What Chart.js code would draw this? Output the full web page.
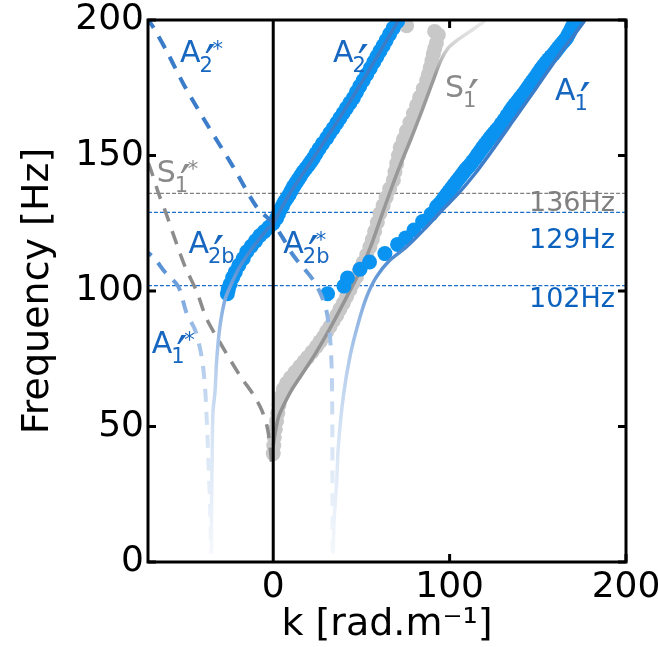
<!DOCTYPE html>
<html>
<head>
    <meta charset="UTF-8" />
    <title>Dispersion curves</title>
    <script src="https://cdn.jsdelivr.net/npm/chart.js@4.4.0/dist/chart.umd.min.js"></script>
    <style>
        body { margin: 0; background: #fff; }
        #plot { display: block; }
    </style>
</head>
<body>
<canvas id="plot" width="658" height="647"></canvas>
<script>
    // every series is a list of [k (rad/m), f (Hz)]

    // measured branches (dots)
    const a2Dots = [[-26,99],[-25.5,100.5],[-24.5,102.5],[-23,105],[-21.5,107],[-19.5,109.5],[-17,112],[-15,114.5],
        [-12.5,116.5],[-10,118.5],[-7.5,120.5],[-5,122],[-2.5,123.5],[0,125],[2,127],[3,128.5],[4,130],[5.3,131.5],
        [6.5,133],[7.8,134.3],[9,135.5],[10.2,137],[11.5,138.5],[12.8,139.8],[14,141],[15.5,142.5],[17,144],
        [18.5,145.2],[20,146.5],[21.3,147.7],[22.7,149],[24.3,150.7],[26,152.5],[28,154.4],[30.3,156.4],[32,158.2],
        [34,160],[36,162],[37.8,163.8],[39.6,165.6],[41.5,167.5],[43.5,169.4],[45.4,171.2],[47.2,173.4],[49,175.5],
        [51,177.7],[53,179.9],[55,182.2],[57,184.5],[58.8,186.5],[60.5,188.5],[62.3,190.5],[64,192.5],[66,194.8],
        [68,197],[70.5,199.5]];

    const a1Dots = [[30.8,99],[40.1,101.8],[42.1,104.8],[49.2,108],[54.6,110.7],[63.3,113.8],[70.5,117.2],
        [75.1,119.6],[79.8,122.5],[84.7,125.6],[89.4,128.3],[92.6,131.1],[94,132],[95.5,133],[96.8,134.3],
        [98.2,135.5],[99.6,136.7],[101,137.9],[102.5,139.2],[104,140.5],[105.4,141.6],[106.8,142.8],[108,143.8],
        [109,144.7],[110.3,145.6],[111.5,146.5],[113,147.8],[114.5,149],[115.8,150.3],[117.2,151.5],[118.6,152.8],
        [120,154],[121.4,155.2],[122.8,156.4],[124,157.4],[125.2,158.3],[126.4,159.2],[127.6,160.1],[129.3,161.7],
        [131,163.2],[132.6,164.8],[134.2,166.3],[135.6,167.6],[137,168.8],[138.5,170],[139.9,171.2],[141.5,172.5],
        [143,173.8],[144.3,175],[145.6,176.2],[146.8,177.3],[148,178.3],[149.2,179.4],[150.3,180.5],[151.6,181.8],
        [153,183],[154.5,184.2],[156,185.4],[157.5,186.5],[159,187.5],[160.3,188.6],[161.6,189.7],[162.8,190.7],
        [164,191.6],[165.2,192.5],[166.3,193.4],[167.2,194.5],[168,195.5],[168.8,196.6],[169.7,197.8],[171,199.5]];

    const s1Dots = [[0,40],[0.3,43],[0.6,46],[1.2,49],[1.9,52],[2.6,55],[3.3,58],[4.3,61],[5.8,63.8],[7.6,66],
        [9.8,68],[12.3,70],[15.1,72.1],[17.5,74],[19.5,75.5],[22,77.5],[24.6,79.5],[26.5,81.3],[28.5,83],[30.3,85],
        [32.1,86.8],[34,89],[36,91],[37.8,93.3],[39.7,95.5],[41.6,98],[43.5,100.5],[45.3,103],[47.2,105.3],[49,108],
        [51,110.5],[53,113.4],[54.8,116.3],[56.2,119],[57.5,122],[59,125.3],[60.5,128.6],[62.3,131.5],[64,134.5],
        [66,137.7],[68.1,140.9],[69,144],[70,147],[71,150],[72,153],[73.8,156],[75.5,159],[77.5,162.2],[79.5,165.5],
        [81.3,168.5],[83,171.5],[85,174.6],[87,177.7],[88,180],[89,182.5],[90,185],[90.8,187.5],[91.6,189.5],
        [92.5,191.5],[93.6,194.5],[91.5,195.8],[75.6,197.9]];

    // model branches (lines), starred ones are the negative-k branches
    const a2Model = [[-35,3],[-35,20],[-34.6,40],[-34.2,55],[-33,63],[-32,75],[-30.2,87],[-27.4,96.7],[-24.5,101.6],
        [-18.9,109],[-11.3,116.3],[-3.8,122.5],[0,124.9],[5,131],[11.4,138],[22.7,149],[37.8,164],[53,180],
        [63,191],[72,201]];

    const a2StarModel = [[-72,201],[-68,197.3],[-60,188],[-51,176.5],[-37.8,161.8],[-22.7,145.8],[-9.4,131],
        [0,124.9],[5.5,119.5],[11.5,113],[22.7,104],[27.5,98],[30.4,92],[32.3,82],[33.2,70],[33.5,50],
        [33.6,30],[33.6,3]];

    const a1Model = [[34,3],[34.5,15],[36,30],[36.9,42.6],[39.7,61],[43.5,75.8],[48.2,88.1],[53,97.9],[58.6,105.3],
        [66.2,111.4],[75.6,116.3],[87,123.7],[96,130],[105,136],[114,143],[122.8,150.7],[136.2,163],[149.4,175.2],
        [162.6,187.6],[175.9,199.2],[177.2,201]];

    const a1StarModel = [[-75,116],[-68,112.5],[-61.4,107],[-53.8,101.6],[-49.1,91.8],[-44.3,85.6],[-40.6,75.8],
        [-38.7,64.7],[-37.6,51.3],[-36.7,36.5],[-35.8,20],[-35.4,8.3],[-35.3,3]];

    const s1Model = [[0,43],[1.2,48],[3,53.5],[6,58],[10,63],[16,69],[24,77],[32,86],[41,97],[48.5,106.5],[55,116],
        [61,127],[66.5,137],[72,146.5],[78,156],[84,166],[90,176.5],[95,185],[99,189.5],[104,192.4],[112,196],
        [119,199.2],[121,200.5]];

    const s1StarModel = [[-1,37],[-2,44],[-3.5,50],[-6.5,56],[-11,61.5],[-18.9,68.8],[-30.2,81],[-37.8,89.8],
        [-43.5,100],[-50,109],[-56.5,120.6],[-60.4,128],[-65,136],[-69.7,145.3],[-74,152]];

    // cut-off frequencies marked across the plot
    const cutoffs = [136, 129, 102];
    const cutoffNames = ['136Hz', '129Hz', '102Hz'];

    const xTicks = [0, 100, 200];
    const yTicks = [0, 50, 100, 150, 200];

    const FONT = 'DejaVu Sans';
    const BLUE_DOT = '#0a93f0';
    const BLUE_TXT = '#1767c0';
    const GREY_TXT = '#8a8a8a';

    const toXY = pts => pts.map(([x, y]) => ({ x, y }));

    // lines fade out towards low frequencies
    function blueFade(c) {
        const chart = c.chart;
        if (!chart.chartArea) return '#3d7cc6';
        const y = chart.scales.y;
        const g = chart.ctx.createLinearGradient(0, y.getPixelForValue(0), 0, y.getPixelForValue(200));
        g.addColorStop(0.00, '#f7fafd');
        g.addColorStop(0.10, '#e9f0f9');
        g.addColorStop(0.25, '#d3e2f4');
        g.addColorStop(0.35, '#b9d0ee');
        g.addColorStop(0.45, '#93b7e4');
        g.addColorStop(0.50, '#77a4dc');
        g.addColorStop(0.55, '#5590d3');
        g.addColorStop(0.60, '#3f80cc');
        g.addColorStop(1.00, '#3a7bc8');
        return g;
    }

    function greyFade(c) {
        const chart = c.chart;
        if (!chart.chartArea) return '#999';
        const y = chart.scales.y;
        const g = chart.ctx.createLinearGradient(0, y.getPixelForValue(0), 0, y.getPixelForValue(200));
        g.addColorStop(0.00, '#8e8e8e');
        g.addColorStop(0.90, '#9b9b9b');
        g.addColorStop(0.945, '#cdcdcd');
        g.addColorStop(1.00, '#ededed');
        return g;
    }

    function lineSet(pts, color, width, dash, order) {
        return {
            data: toXY(pts), showLine: true, pointRadius: 0, pointHoverRadius: 0,
            borderColor: color, borderWidth: width, borderDash: dash, tension: 0.3,
            fill: false, order: order
        };
    }

    function dotSet(pts, color, order) {
        return {
            data: toXY(pts), showLine: false, pointRadius: 7.5, pointHoverRadius: 7.5,
            pointBorderWidth: 0, backgroundColor: color, borderColor: color, order: order
        };
    }

    const datasets = [];
    cutoffs.forEach((f, i) => {
        datasets.push(lineSet([[-71, f], [200, f]], i === 0 ? '#808080' : '#1a6fcc', 1.3, [4, 2], 9));
    });
    datasets.push(dotSet(s1Dots, '#c8c8c8', 8));
    datasets.push(lineSet(s1Model, greyFade, 3.5, [], 7));
    datasets.push(lineSet(s1StarModel, '#8c8c8c', 3.5, [14, 10], 7));
    datasets.push(dotSet(a2Dots, BLUE_DOT, 6));
    datasets.push(dotSet(a1Dots, BLUE_DOT, 6));
    datasets.push(lineSet(a2StarModel, blueFade, 4, [13, 10], 3));
    datasets.push(lineSet(a1StarModel, blueFade, 4, [13, 10], 3));
    datasets.push(lineSet(a2Model, blueFade, 3.5, [], 2));
    datasets.push(lineSet(a1Model, blueFade, 3.5, [], 2));

    // mode names: base letter, subscript, marks, anchor in data units
    const modeNames = [
        { t: 'A', sub: '2', star: true, k: -52.8, f: 184.5, c: BLUE_TXT },
        { t: 'A', sub: '2', star: false, k: 33.9, f: 184.5, c: BLUE_TXT },
        { t: 'S', sub: '1', star: false, k: 97.4, f: 171.6, c: GREY_TXT },
        { t: 'A', sub: '1', star: false, k: 159.8, f: 170.5, c: BLUE_TXT },
        { t: 'S', sub: '1', star: true, k: -66.1, f: 140.2, c: GREY_TXT },
        { t: 'A', sub: '2b', star: false, k: -48.1, f: 114, c: BLUE_TXT },
        { t: 'A', sub: '2b', star: true, k: 5.7, f: 114, c: BLUE_TXT },
        { t: 'A', sub: '1', star: true, k: -68.9, f: 77.1, c: BLUE_TXT }
    ];

    // prime sized from its own ink box so it comes out ~10px tall
    function drawPrime(ctx, left, top) {
        ctx.font = '40px "' + FONT + '"';
        const m = ctx.measureText('\u2032');
        const h = (m.actualBoundingBoxAscent + m.actualBoundingBoxDescent) || 10;
        const size = Math.min(70, 40 * 10 / h);
        ctx.font = size.toFixed(1) + 'px "' + FONT + '"';
        const m2 = ctx.measureText('\u2032');
        ctx.fillText('\u2032', left + m2.actualBoundingBoxLeft, top + m2.actualBoundingBoxAscent);
    }

    function drawModeName(ctx, n, px, py) {
        ctx.fillStyle = n.c;
        ctx.textAlign = 'left';
        ctx.textBaseline = 'alphabetic';
        ctx.font = '30px "' + FONT + '"';
        ctx.fillText(n.t, px, py);
        const w = ctx.measureText(n.t).width;
        ctx.font = '21px "' + FONT + '"';
        ctx.fillText(n.sub, px + w - 1, py + 10);
        if (n.star) ctx.fillText('*', px + w + 12, py - 6);
        drawPrime(ctx, px + w + 4, py - 18);
    }

    // captions sit a little under their line (Hz)
    const captionDrop = [6.3, 13.3, 8];

    const decorations = {
        id: 'decorations',
        afterDatasetsDraw(chart) {
            const { ctx, chartArea: a, scales: { x, y } } = chart;
            ctx.save();

            ctx.font = '27px "' + FONT + '"';
            ctx.textAlign = 'right';
            ctx.textBaseline = 'alphabetic';
            cutoffs.forEach((f, i) => {
                ctx.fillStyle = i === 0 ? '#808080' : '#0b62be';
                ctx.fillText(cutoffNames[i], a.right - 11, y.getPixelForValue(f - captionDrop[i]));
            });

            modeNames.forEach(n => drawModeName(ctx, n, x.getPixelForValue(n.k), y.getPixelForValue(n.f)));

            // box, k = 0 line and inward ticks
            ctx.strokeStyle = '#000';
            ctx.lineWidth = 3;
            ctx.strokeRect(a.left, a.top, a.right - a.left, a.bottom - a.top);
            ctx.beginPath();
            const x0 = x.getPixelForValue(0);
            ctx.moveTo(x0, a.top);
            ctx.lineTo(x0, a.bottom);
            yTicks.forEach(v => {
                const py = y.getPixelForValue(v);
                ctx.moveTo(a.left, py); ctx.lineTo(a.left + 8, py);
                ctx.moveTo(a.right, py); ctx.lineTo(a.right - 8, py);
            });
            xTicks.forEach(v => {
                const px = x.getPixelForValue(v);
                ctx.moveTo(px, a.bottom); ctx.lineTo(px, a.bottom - 8);
                ctx.moveTo(px, a.top); ctx.lineTo(px, a.top + 8);
            });
            ctx.stroke();
            ctx.restore();
        }
    };

    const tickFont = { family: FONT, size: 36, lineHeight: 1 };
    const titleFont = { family: FONT, size: 38, lineHeight: 1 };

    new Chart(document.getElementById('plot'), {
        type: 'scatter',
        data: { datasets: datasets },
        options: {
            responsive: false,
            animation: false,
            devicePixelRatio: 1,
            layout: { padding: { top: 20, right: 32, bottom: 0, left: 0 } },
            plugins: { legend: { display: false }, tooltip: { enabled: false } },
            scales: {
                x: {
                    type: 'linear', min: -71, max: 200,
                    afterBuildTicks: s => { s.ticks = xTicks.map(v => ({ value: v })); },
                    afterFit: s => { s.height = 85; s.paddingLeft = 0; s.paddingRight = 0; },
                    grid: { display: false, drawTicks: false },
                    border: { display: false },
                    ticks: { font: tickFont, color: '#000', padding: 8, maxRotation: 0, autoSkip: false },
                    title: { display: true, text: 'k [rad.m\u207B\u00B9]', font: titleFont, color: '#000',
                        padding: { top: 0, bottom: 3 } }
                },
                y: {
                    type: 'linear', min: 0, max: 200,
                    afterBuildTicks: s => { s.ticks = yTicks.map(v => ({ value: v })); },
                    afterFit: s => { s.width = 148; s.paddingTop = 0; s.paddingBottom = 0; },
                    grid: { display: false, drawTicks: false },
                    border: { display: false },
                    ticks: { font: tickFont, color: '#000', padding: 4, autoSkip: false },
                    title: { display: true, text: 'Frequency [Hz]', font: titleFont, color: '#000',
                        padding: { top: 19, bottom: 0 } }
                }
            }
        },
        plugins: [decorations]
    });
</script>
</body>
</html>
